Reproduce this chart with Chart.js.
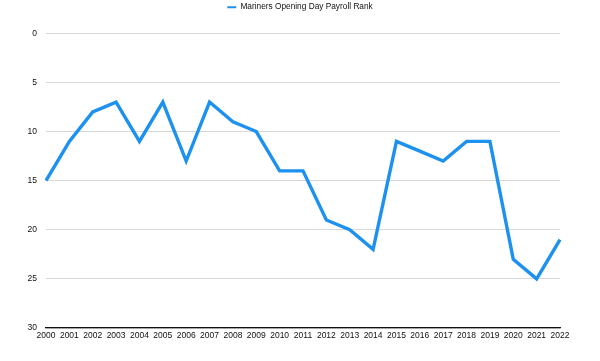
<!DOCTYPE html>
<html>
<head>
<meta charset="utf-8">
<script src="https://cdn.jsdelivr.net/npm/chart.js@4.4.0/dist/chart.umd.min.js"></script>
<style>
html,body{margin:0;padding:0;background:#fff;}
#wrap{width:600px;height:361px;position:relative;}
</style>
</head>
<body>
<div id="wrap"><canvas id="c"></canvas></div>
<script>
const years = ["2000","2001","2002","2003","2004","2005","2006","2007","2008","2009","2010","2011","2012","2013","2014","2015","2016","2017","2018","2019","2020","2021","2022"];
const payrollRank = [15,11,8,7,11,7,13,7,9,10,14,14,19,20,22,11,12,13,11,11,23,25,21];
const seriesName = "Mariners Opening Day Payroll Rank";
const yMin = 0, yMax = 30, yStep = 5;

const FONT = "'Liberation Sans', Arial, Helvetica, sans-serif";
const BLUE = "rgb(29,145,240)";

new Chart(document.getElementById('c'), {
  type: 'line',
  data: {
    labels: years,
    datasets: [{
      label: seriesName,
      data: payrollRank,
      borderColor: BLUE,
      backgroundColor: BLUE,
      borderWidth: 3.4,
      pointRadius: 0,
      tension: 0,
      borderJoinStyle: 'miter',
      fill: false
    }]
  },
  options: {
    responsive: true,
    maintainAspectRatio: false,
    animation: false,
    layout: { padding: { top: 0, right: 0, bottom: 0, left: 0 } },
    plugins: {
      legend: {
        display: true,
        position: 'top',
        labels: {
          usePointStyle: true,
          pointStyle: 'line',
          pointStyleWidth: 9,
          boxHeight: 8,
          color: '#111',
          font: { family: FONT, size: 8.3 },
          padding: 3,
          generateLabels: (chart) => {
            const items = Chart.defaults.plugins.legend.labels.generateLabels(chart);
            items.forEach(it => { it.lineWidth = 2; it.strokeStyle = BLUE; });
            return items;
          }
        }
      },
      tooltip: { enabled: false }
    },
    scales: {
      x: {
        offset: false,
        grid: { display: false, drawTicks: false },
        border: { display: true, color: '#111', width: 1.2 },
        ticks: {
          color: '#111',
          font: { family: FONT, size: 8.5 },
          maxRotation: 0,
          autoSkip: false,
          padding: 3
        },
        afterFit: (s) => { s.height = 33; }
      },
      xTopSpacer: {
        type: 'category',
        position: 'top',
        display: true,
        grid: { display: false, drawTicks: false },
        border: { display: false },
        ticks: { display: false },
        afterFit: (s) => { s.height = 12; }
      },
      y: {
        reverse: true,
        min: yMin,
        max: yMax,
        grid: { color: '#d8d8d8', lineWidth: 1, drawTicks: false },
        border: { display: false },
        ticks: {
          stepSize: yStep,
          color: '#111',
          font: { family: FONT, size: 8.5 },
          padding: 9
        },
        afterFit: (s) => { s.width = 46; }
      },
      yRightSpacer: {
        type: 'linear',
        position: 'right',
        display: true,
        grid: { display: false, drawTicks: false },
        border: { display: false },
        ticks: { display: false },
        afterFit: (s) => { s.width = 40; }
      }
    }
  }
});
</script>
</body>
</html>
